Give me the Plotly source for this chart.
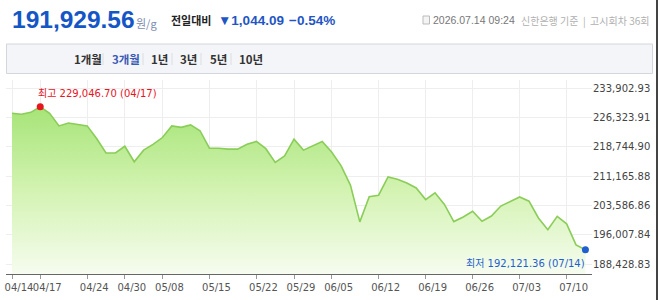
import plotly.graph_objects as go

# ---------------- data ----------------
dates = ["04/14", "04/15", "04/16", "04/17", "04/20", "04/21", "04/22", "04/23", "04/24",
         "04/27", "04/28", "04/29", "04/30", "05/04", "05/06", "05/07", "05/08",
         "05/11", "05/12", "05/13", "05/14", "05/15", "05/18", "05/19", "05/20", "05/21", "05/22",
         "05/26", "05/27", "05/28", "05/29", "06/01", "06/02", "06/04", "06/05",
         "06/08", "06/09", "06/10", "06/11", "06/12", "06/15", "06/16", "06/17", "06/18", "06/19",
         "06/22", "06/23", "06/24", "06/25", "06/26", "06/29", "06/30", "07/01", "07/02", "07/03",
         "07/06", "07/07", "07/08", "07/09", "07/10", "07/13", "07/14"]
prices = [227368, 227118, 227619, 229046.70, 227368, 224112, 224863, 224488, 224112,
          220856, 217098, 217150, 218851, 214843, 217850, 219352, 221106,
          224112, 223736, 224362, 222860, 218350, 218350, 218100, 218100, 219352, 220104,
          218225, 214668, 216347, 220680, 217850, 218927, 220104, 217349,
          213842, 208832, 199313, 205826, 206201, 210911, 210335, 209333, 208080, 205074,
          206828, 203822, 199388, 200565, 202068, 199488, 200816, 203396, 204648, 205750,
          204648, 200315, 197309, 200740, 198812, 193376, 192121.36]
x_tick_labels = ["04/14", "04/17", "04/24", "04/30", "05/08", "05/15", "05/22", "05/29",
                 "06/05", "06/12", "06/19", "06/26", "07/03", "07/10"]
y_tick_values = [188428.83, 196007.84, 203586.86, 211165.88, 218744.90, 226323.91, 233902.93]
y_tick_labels = ["188,428.83", "196,007.84", "203,586.86", "211,165.88", "218,744.90",
                 "226,323.91", "233,902.93"]
current_price = "191,929.56"
unit_label = "원/g"
change_label = "전일대비"
change_value = "▼1,044.09"
change_pct = "−0.54%"
info_time = "2026.07.14 09:24"
info_source = "신한은행 기준  |  고시회차 36회"
period_tabs = ["1개월", "3개월", "1년", "3년", "5년", "10년"]
active_tab = "3개월"

# ---------------- geometry helpers ----------------
W, H = 658, 300
L, R, T, B = 6, 592, 80, 274
Y_LO, Y_HI = 185845.1, 235970.0
X_LO, X_HI = -0.64, 61.70


def px(x):
    return (x - L) / (R - L)


def py(y):
    return (B - y) / (B - T)


NUM_FONT = "DejaVu Sans, Noto Sans CJK KR"
KR_FONT = "Noto Sans CJK KR, Noto Sans, sans-serif"

fig = go.Figure()

fig.add_trace(go.Scatter(
    x=dates, y=prices, mode="lines",
    line=dict(color="#8acd58", width=1.6),
    fill="tozeroy",
    fillgradient=dict(type="vertical",
                      colorscale=[[0, "#f6fcef"], [0.5, "#d3f3b2"], [1, "#a6e477"]],
                      start=Y_LO, stop=max(prices)),
    hoverinfo="skip", showlegend=False,
))

imax = prices.index(max(prices))
imin = prices.index(min(prices))
fig.add_trace(go.Scatter(x=[dates[imax]], y=[prices[imax]], mode="markers",
                         marker=dict(color="#e8141e", size=7), hoverinfo="skip", showlegend=False))
fig.add_trace(go.Scatter(x=[dates[imin]], y=[prices[imin]], mode="markers",
                         marker=dict(color="#1f5fd0", size=7), hoverinfo="skip", showlegend=False))

annotations = [
    dict(x=dates[imax], y=prices[imax], xref="x", yref="y",
         text=f"최고 {prices[imax]:,.2f} ({dates[imax]})", showarrow=False,
         xanchor="left", yanchor="middle", xshift=-4, yshift=13,
         font=dict(family=NUM_FONT, size=10, color="#e8141e")),
    dict(x=dates[imin], y=prices[imin], xref="x", yref="y",
         text=f"최저 {prices[imin]:,.2f} ({dates[imin]})", showarrow=False,
         xanchor="right", yanchor="middle", xshift=2, yshift=-14,
         font=dict(family=NUM_FONT, size=10, color="#1f5fd0")),
    # header
    dict(x=px(10), y=py(19), xref="paper", yref="paper", text=f"<b>{current_price}</b>",
         showarrow=False, xanchor="left", yanchor="middle",
         font=dict(family="Liberation Sans, Arial", size=24.5, color="#1556c6")),
    dict(x=px(134), y=py(23), xref="paper", yref="paper", text=unit_label,
         showarrow=False, xanchor="left", yanchor="middle",
         font=dict(family=KR_FONT, size=11, color="#7d8cb0")),
    dict(x=px(169), y=py(20), xref="paper", yref="paper", text=f"<b>{change_label}</b>",
         showarrow=False, xanchor="left", yanchor="middle",
         font=dict(family=KR_FONT, size=11, color="#222222")),
    dict(x=px(216), y=py(21), xref="paper", yref="paper", text=f"<b>{change_value}</b>",
         showarrow=False, xanchor="left", yanchor="middle",
         font=dict(family="Liberation Sans, Arial", size=13.5, color="#1f56c4")),
    dict(x=px(287), y=py(21), xref="paper", yref="paper", text=f"<b>{change_pct}</b>",
         showarrow=False, xanchor="left", yanchor="middle",
         font=dict(family="Liberation Sans, Arial", size=13.5, color="#1f56c4")),
    dict(x=px(431), y=py(20), xref="paper", yref="paper", text=info_time,
         showarrow=False, xanchor="left", yanchor="middle",
         font=dict(family="Liberation Sans, Arial", size=10.5, color="#777777")),
    dict(x=px(519), y=py(20), xref="paper", yref="paper", text=info_source,
         showarrow=False, xanchor="left", yanchor="middle",
         font=dict(family=KR_FONT, size=10, color="#b0b0b0")),
]

# period tabs
tab_x = [72, 110, 149, 178, 208, 237]
sep_x = [103, 143, 172, 201, 231]
for tx, lab in zip(tab_x, period_tabs):
    annotations.append(dict(x=px(tx), y=py(59), xref="paper", yref="paper",
                            text=f"<b>{lab}</b>", showarrow=False,
                            xanchor="left", yanchor="middle",
                            font=dict(family=KR_FONT, size=11.5,
                                      color="#3b5bb5" if lab == active_tab else "#333333")))

shapes = [
    dict(type="rect", xref="paper", yref="paper", x0=px(6.5), x1=px(652.5), y0=py(44), y1=py(73.5),
         fillcolor="#f4f5f9", line=dict(color="#d3d6dd", width=1), layer="below"),
    dict(type="rect", xref="paper", yref="paper", x0=px(423), x1=px(429.5), y0=py(16), y1=py(24),
         fillcolor="#f4f4f4", line=dict(color="#bbbbbb", width=1)),
    dict(type="line", xref="paper", yref="paper", x0=px(657), x1=px(657), y0=py(0), y1=py(300),
         line=dict(color="#444444", width=2), layer="above"),
]
for sx in sep_x:
    shapes.append(dict(type="line", xref="paper", yref="paper", x0=px(sx), x1=px(sx),
                       y0=py(53), y1=py(65), line=dict(color="#dddddd", width=1)))

fig.update_layout(
    width=W, height=H,
    margin=dict(l=L, r=W - R, t=T, b=H - B, pad=0),
    paper_bgcolor="white", plot_bgcolor="white",
    annotations=annotations, shapes=shapes,
    showlegend=False, hovermode=False,
    xaxis=dict(type="category", categoryorder="array", categoryarray=dates,
               range=[X_LO, X_HI], tickmode="array", tickvals=x_tick_labels,
               ticktext=x_tick_labels, showgrid=True, gridcolor="#eeeeee", gridwidth=1,
               showline=True, linecolor="#666666", linewidth=1,
               ticks="outside", ticklen=4, tickcolor="#999999",
               ticklabelshift=7, tickangle=0,
               tickfont=dict(family="DejaVu Sans", size=10, color="#555555"),
               zeroline=False, fixedrange=True),
    yaxis=dict(range=[Y_LO, Y_HI], side="right", tickmode="array",
               tickvals=y_tick_values, ticktext=y_tick_labels,
               showgrid=True, gridcolor="#eeeeee", gridwidth=1, ticks="",
               showline=False, zeroline=False,
               tickfont=dict(family="DejaVu Sans", size=10, color="#444444"),
               fixedrange=True),
)

fig.write_html("out.html", config={"displayModeBar": False})
